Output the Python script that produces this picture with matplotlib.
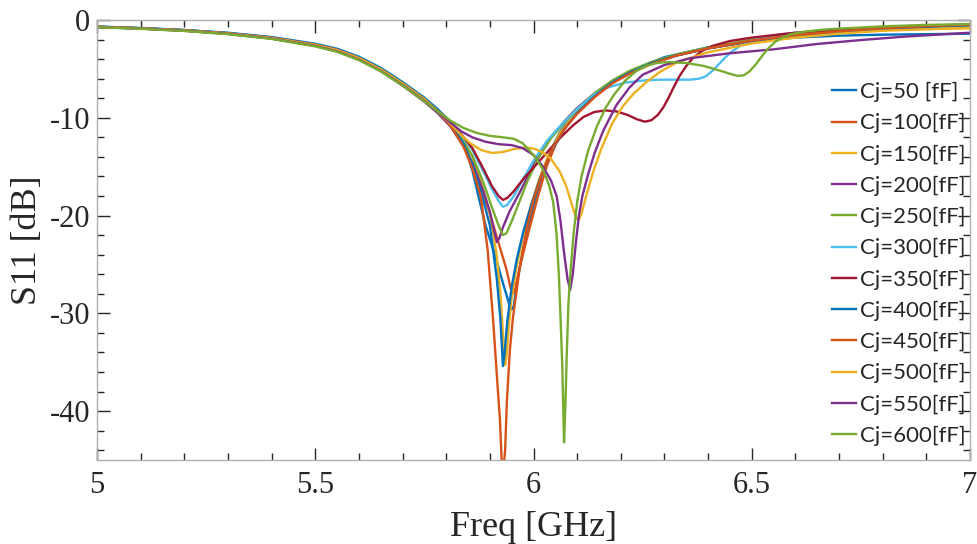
import matplotlib
matplotlib.use("Agg")
import matplotlib.pyplot as plt
from matplotlib.ticker import MultipleLocator, FormatStrFormatter

plt.rcParams['axes.unicode_minus'] = False

# ---- data (freq in GHz, S11 in dB) ----
head_f = [5.0, 5.1, 5.2, 5.3, 5.4, 5.5, 5.55, 5.6, 5.65, 5.7, 5.75, 5.78]

f_50 = head_f + [5.81, 5.84, 5.86, 5.877, 5.89, 5.908, 5.93, 5.946, 5.95, 5.955, 5.962, 5.976, 5.99,
                 6.0, 6.02, 6.04, 6.06, 6.09, 6.12, 6.16, 6.2, 6.25, 6.3, 6.4, 6.5, 6.6, 6.7, 6.8, 6.9, 7.0]
s_50 = [-0.68, -0.83, -1.03, -1.32, -1.76, -2.45, -2.97, -3.75, -4.9, -6.35, -7.95, -9.1,
        -10.5, -12.5, -15.4, -18.6, -21.0, -23.5, -26.9, -29.3, -29.6, -29.2, -26.9, -23.5, -20.8,
        -19.0, -15.8, -13.3, -11.5, -9.6, -8.3, -6.9, -5.8, -4.7, -3.8, -2.8, -2.15, -1.8, -1.6, -1.5, -1.45, -1.4]

f_100 = head_f + [5.81, 5.84, 5.86, 5.88, 5.9, 5.92, 5.938, 5.948, 5.953, 5.958, 5.969, 5.988, 6.008,
                  6.03, 6.05, 6.07, 6.1, 6.14, 6.18, 6.22, 6.27, 6.33, 6.4, 6.5, 6.6, 6.7, 6.8, 6.9, 7.0]
s_100 = [-0.70, -0.85, -1.05, -1.35, -1.8, -2.5, -3.03, -3.85, -5.0, -6.45, -8.05, -9.2,
         -10.6, -12.7, -14.8, -17.2, -19.8, -22.8, -25.5, -27.5, -28.0, -27.5, -25.2, -21.8, -18.4,
         -15.0, -12.8, -11.2, -9.4, -7.6, -6.3, -5.3, -4.4, -3.6, -2.9, -2.2, -1.6, -1.2, -0.9, -0.65, -0.5]

f_150 = head_f + [5.81, 5.84, 5.86, 5.88, 5.9, 5.915, 5.925, 5.932, 5.935, 5.938, 5.943, 5.95, 5.96, 5.975,
                  5.99, 6.01, 6.03, 6.06, 6.09, 6.13, 6.17, 6.22, 6.28, 6.35, 6.45, 6.55, 6.65, 6.75, 6.85, 7.0]
s_150 = [-0.70, -0.86, -1.07, -1.38, -1.84, -2.55, -3.08, -3.9, -5.05, -6.5, -8.05, -9.15,
         -10.5, -12.3, -14.0, -16.6, -19.8, -23.8, -28.5, -33.5, -35.3, -34.5, -31.5, -28.4, -25.5, -22.3,
         -19.6, -16.7, -14.3, -11.6, -9.8, -8.0, -6.6, -5.3, -4.2, -3.3, -2.5, -1.9, -1.45, -1.15, -0.95, -0.85]

f_200 = head_f + [5.81, 5.84, 5.86, 5.885, 5.9, 5.91, 5.916, 5.922, 5.93, 5.945, 5.97, 6.0, 6.03, 6.07,
                  6.1, 6.14, 6.18, 6.22, 6.27, 6.33, 6.4, 6.5, 6.6, 6.7, 6.8, 6.9, 7.0]
s_200 = [-0.70, -0.86, -1.08, -1.40, -1.87, -2.6, -3.15, -4.0, -5.2, -6.7, -8.35, -9.5,
         -10.9, -12.9, -14.6, -17.5, -19.6, -21.6, -22.7, -22.3, -21.2, -19.6, -17.5, -14.8, -12.6, -10.4,
         -9.0, -7.5, -6.3, -5.3, -4.4, -3.6, -2.9, -2.15, -1.6, -1.2, -0.9, -0.68, -0.52]

f_250 = head_f + [5.81, 5.84, 5.86, 5.885, 5.905, 5.92, 5.93, 5.938, 5.95, 5.965, 5.985, 6.01, 6.04, 6.07,
                  6.1, 6.14, 6.18, 6.22, 6.27, 6.33, 6.4, 6.5, 6.6, 6.7, 6.8, 6.9, 7.0]
s_250 = [-0.72, -0.88, -1.1, -1.42, -1.9, -2.65, -3.2, -4.05, -5.2, -6.65, -8.25, -9.4,
         -10.7, -12.5, -13.9, -16.6, -19.2, -21.0, -22.0, -21.8, -20.6, -18.9, -16.6, -14.2, -12.1, -10.5,
         -9.1, -7.5, -6.2, -5.2, -4.3, -3.5, -2.8, -2.0, -1.45, -1.05, -0.78, -0.58, -0.45]

f_300 = head_f + [5.81, 5.84, 5.86, 5.885, 5.905, 5.92, 5.93, 5.94, 5.955, 5.976, 6.0, 6.03, 6.06, 6.1,
                  6.137, 6.17, 6.21, 6.26, 6.3, 6.33, 6.36, 6.38, 6.395, 6.41, 6.425, 6.44, 6.455,
                  6.475, 6.5, 6.53, 6.56, 6.6, 6.7, 6.8, 6.9, 7.0]
s_300 = [-0.66, -0.82, -1.02, -1.3, -1.74, -2.42, -2.93, -3.75, -4.9, -6.35, -7.95, -9.1,
         -10.4, -12.1, -13.3, -15.5, -17.3, -18.5, -19.1, -18.9, -18.0, -16.3, -14.4, -12.4, -10.9, -9.1,
         -7.7, -6.9, -6.4, -6.15, -6.1, -6.1, -6.1, -6.0, -5.75, -5.2, -4.5, -3.8, -3.2,
         -2.6, -2.1, -1.75, -1.5, -1.3, -1.0, -0.8, -0.65, -0.55]

f_350 = head_f + [5.81, 5.84, 5.86, 5.885, 5.905, 5.92, 5.93, 5.94, 5.955, 5.976, 6.0, 6.03, 6.06, 6.09,
                  6.115, 6.14, 6.165, 6.19, 6.215, 6.237, 6.255, 6.27, 6.285, 6.298, 6.31, 6.322,
                  6.335, 6.35, 6.365, 6.385, 6.41, 6.45, 6.5, 6.6, 6.7, 6.8, 6.9, 7.0]
s_350 = [-0.7, -0.85, -1.06, -1.36, -1.8, -2.5, -3.02, -3.85, -5.0, -6.45, -8.05, -9.2,
         -10.4, -12.0, -13.1, -15.2, -17.0, -18.0, -18.4, -18.2, -17.5, -16.3, -15.1, -13.6, -12.1, -10.8,
         -9.9, -9.4, -9.25, -9.35, -9.7, -10.15, -10.4, -10.25, -9.7, -8.9, -7.9, -6.8,
         -5.7, -4.7, -3.9, -3.2, -2.65, -2.15, -1.8, -1.3, -1.0, -0.75, -0.6, -0.5]

f_400 = head_f + [5.81, 5.84, 5.86, 5.88, 5.9, 5.916, 5.924, 5.93, 5.934, 5.94, 5.95, 5.962, 5.977, 5.995,
                  6.015, 6.04, 6.07, 6.1, 6.14, 6.18, 6.22, 6.27, 6.33, 6.4, 6.5, 6.6, 6.7, 6.8, 6.9, 7.0]
s_400 = [-0.69, -0.84, -1.04, -1.34, -1.78, -2.47, -2.98, -3.8, -4.95, -6.4, -8.0, -9.15,
         -10.6, -12.7, -14.8, -17.6, -21.0, -26.5, -30.5, -35.4, -34.0, -30.8, -27.3, -24.4, -21.6, -18.9,
         -16.2, -13.5, -11.2, -9.5, -7.8, -6.4, -5.4, -4.4, -3.6, -2.9, -2.15, -1.6, -1.2, -0.9, -0.7, -0.55]

f_450 = head_f + [5.81, 5.84, 5.86, 5.879, 5.895, 5.908, 5.917, 5.923, 5.929, 5.935, 5.939, 5.946, 5.953,
                  5.969, 5.985, 6.0, 6.02, 6.045, 6.07, 6.1, 6.14, 6.18, 6.22, 6.27, 6.33, 6.4,
                  6.5, 6.6, 6.7, 6.8, 6.9, 7.0]
s_450 = [-0.7, -0.85, -1.05, -1.36, -1.82, -2.52, -3.05, -3.88, -5.05, -6.5, -8.1, -9.3,
         -10.8, -13.0, -15.2, -18.0, -23.5, -31.0, -37.0, -40.8, -47.0, -44.0, -39.0, -33.7, -30.4,
         -25.2, -21.2, -18.4, -15.6, -13.0, -11.2, -9.6, -7.9, -6.5, -5.5, -4.5, -3.6, -2.9,
         -2.1, -1.55, -1.15, -0.85, -0.62, -0.48]

f_500 = head_f + [5.81, 5.835, 5.855, 5.88, 5.905, 5.93, 5.955, 5.98, 6.0, 6.02, 6.04, 6.06, 6.075, 6.088,
                  6.098, 6.104, 6.11, 6.122, 6.137, 6.155, 6.18, 6.205, 6.23, 6.26, 6.29, 6.33,
                  6.4, 6.5, 6.6, 6.7, 6.8, 6.9, 7.0]
s_500 = [-0.7, -0.86, -1.07, -1.38, -1.84, -2.55, -3.08, -3.9, -5.05, -6.5, -8.1, -9.3,
         -10.6, -11.8, -12.6, -13.3, -13.6, -13.5, -13.2, -13.05, -13.15, -13.5, -14.2, -15.5, -17.0, -18.9,
         -20.3, -20.4, -19.8, -17.8, -15.5, -13.2, -10.6, -8.8, -7.5, -6.3, -5.3, -4.3,
         -3.3, -2.4, -1.8, -1.4, -1.1, -0.95, -0.8]

f_550 = head_f + [5.81, 5.835, 5.86, 5.89, 5.92, 5.95, 5.975, 6.0, 6.02, 6.04, 6.053, 6.062, 6.07, 6.078,
                  6.084, 6.09, 6.097, 6.104, 6.112, 6.125, 6.14, 6.16, 6.19, 6.22, 6.25, 6.3, 6.36,
                  6.45, 6.55, 6.65, 6.75, 6.85, 7.0]
s_550 = [-0.72, -0.88, -1.1, -1.42, -1.9, -2.65, -3.2, -4.05, -5.2, -6.65, -8.25, -9.35,
         -10.5, -11.4, -12.0, -12.45, -12.7, -12.8, -13.1, -13.8, -14.9, -16.4, -18.0, -20.6, -23.8, -26.5,
         -27.6, -26.0, -22.8, -20.0, -18.0, -15.8, -13.6, -11.3, -8.7, -6.9, -5.6, -4.6, -3.9,
         -3.4, -3.0, -2.45, -2.05, -1.7, -1.3]

f_600 = head_f + [5.81, 5.84, 5.87, 5.9, 5.93, 5.955, 5.975, 5.99, 6.005, 6.022, 6.035, 6.045, 6.053,
                  6.058, 6.062, 6.066, 6.070, 6.073, 6.076, 6.08, 6.086, 6.092, 6.1, 6.11, 6.125, 6.145,
                  6.165, 6.185, 6.21, 6.236, 6.26, 6.285, 6.31, 6.35, 6.39, 6.425, 6.45, 6.468, 6.482,
                  6.495, 6.51, 6.525, 6.54, 6.555, 6.57, 6.59, 6.62, 6.66, 6.7, 6.8, 6.9, 7.0]
s_600 = [-0.73, -0.9, -1.12, -1.45, -1.93, -2.7, -3.25, -4.1, -5.25, -6.7, -8.3, -9.3,
         -10.3, -11.05, -11.55, -11.85, -12.0, -12.15, -12.6, -13.3, -14.1, -15.3, -16.8, -18.6, -22.0,
         -26.0, -30.5, -35.5, -43.2, -39.5, -34.5, -29.0, -25.0, -21.8, -18.6, -16.0, -13.4, -10.9,
         -9.0, -7.6, -6.2, -5.2, -4.65, -4.38, -4.3, -4.4, -4.7, -5.15, -5.5, -5.72, -5.65,
         -5.25, -4.5, -3.6, -2.8, -2.2, -1.8, -1.45, -1.2, -1.0, -0.88, -0.65, -0.5, -0.42]

labels = ['Cj=50 [fF]', 'Cj=100[fF]', 'Cj=150[fF]', 'Cj=200[fF]', 'Cj=250[fF]', 'Cj=300[fF]',
          'Cj=350[fF]', 'Cj=400[fF]', 'Cj=450[fF]', 'Cj=500[fF]', 'Cj=550[fF]', 'Cj=600[fF]']
freqs = [f_50, f_100, f_150, f_200, f_250, f_300, f_350, f_400, f_450, f_500, f_550, f_600]
s11s = [s_50, s_100, s_150, s_200, s_250, s_300, s_350, s_400, s_450, s_500, s_550, s_600]

# MATLAB default line colours
colors = ['#0072BD', '#D95319', '#EDB120', '#7E2F8E', '#77AC30', '#4DBEEE', '#A2142F']

fig = plt.figure(figsize=(9.78, 5.44), dpi=100)
ax = fig.add_axes([97 / 978, 84 / 544, 873 / 978, 440 / 544])

for i in range(len(labels)):
    ax.plot(freqs[i], s11s[i], color=colors[i % len(colors)], lw=1.7, label=labels[i])

ax.set_xlim(5, 7)
ax.set_ylim(-45, 0)
ax.xaxis.set_major_locator(MultipleLocator(0.5))
ax.xaxis.set_minor_locator(MultipleLocator(0.1))
ax.yaxis.set_major_locator(MultipleLocator(10))
ax.yaxis.set_minor_locator(MultipleLocator(2))
ax.xaxis.set_major_formatter(FormatStrFormatter('%g'))
ax.yaxis.set_major_formatter(FormatStrFormatter('%g'))

ax.tick_params(which='both', direction='in', top=True, right=True, color='#262626',
               labelcolor='#262626', labelsize=22, width=1)
ax.tick_params(which='major', length=9)
ax.tick_params(which='minor', length=5)
ax.tick_params(axis='x', pad=8)
ax.tick_params(axis='y', pad=5)
for lab in ax.get_xticklabels() + ax.get_yticklabels():
    lab.set_family('Liberation Serif')
for sp in ax.spines.values():
    sp.set_color('#b0b0b0')
    sp.set_linewidth(1)

ax.set_xlabel('Freq [GHz]', family='Liberation Serif', fontsize=26, color='#262626', labelpad=8)
ax.set_ylabel('S11 [dB]', family='Liberation Serif', fontsize=26, color='#262626', labelpad=4)

ax.legend(loc='upper left', bbox_to_anchor=(832 / 978, 1 - 82 / 544), bbox_transform=fig.transFigure,
          frameon=False, prop={'family': 'Lato', 'size': 16}, handlelength=1.1, handletextpad=0.15,
          labelspacing=0.5, borderpad=0, borderaxespad=0, labelcolor='#262626')

fig.savefig('out.png', dpi=100)
